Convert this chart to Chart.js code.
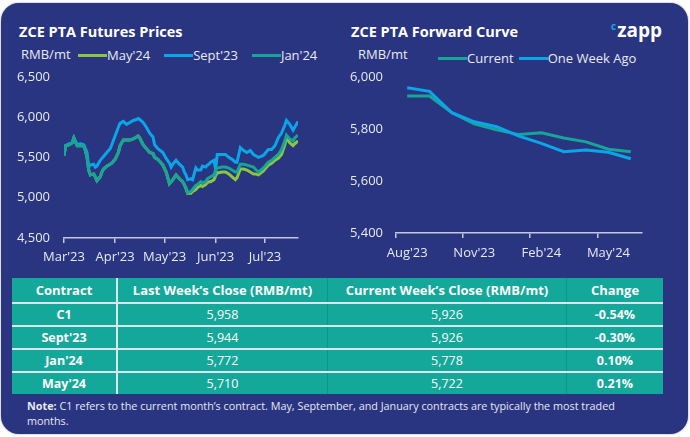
<!DOCTYPE html>
<html>
<head>
<meta charset="utf-8">
<script src="https://cdn.jsdelivr.net/npm/chart.js@4.4.0/dist/chart.umd.min.js"></script>
<style>
  html, body { margin: 0; padding: 0; background: #fff; }
  body { width: 690px; height: 437px; position: relative; overflow: hidden; font-family: "Open Sans", sans-serif; }
  .card { position: absolute; left: 1px; top: 3px; width: 687px; height: 431px; background: #2a3581; border-radius: 18px; box-shadow: 0 0 2px rgba(0,0,0,0.45); }
  .title { position: absolute; color: #fff; font-weight: 700; font-size: 14.5px; line-height: 20px; white-space: nowrap; }
  .unit { position: absolute; color: #e8eaf3; font-size: 13px; line-height: 16px; }
  .box { position: absolute; }
  .legend { position: absolute; display: flex; color: #e8eaf3; font-size: 13px; line-height: 16px; white-space: nowrap; }
  .legend .item { display: flex; align-items: center; }
  .legend .swatch { display: inline-block; width: 29px; height: 3px; }
  .logo { position: absolute; left: 611px; top: 14px; color: #fff; font-weight: 700; font-size: 19px; line-height: 24px; }
  .logo .c { color: #12a6e6; font-size: 10px; vertical-align: 7px; margin-right: 1px; }
  table { position: absolute; left: 12px; top: 278px; width: 651px; border-collapse: collapse; background: #14a89b; color: #fff; font-size: 12.5px; }
  th, td { text-align: center; padding: 0; border-left: 1px solid #0e9488; }
  th { height: 24px; font-weight: 700; font-size: 13px; }
  td { height: 21px; border-top: 2px solid #dbe5ec; }
  th:first-child, td:first-child { border-left: none; border-right: 2px solid #dbe5ec; font-weight: 700; }
  td.chg { font-weight: 700; }
  .note { position: absolute; left: 27px; top: 398px; width: 600px; color: #e6e8f2; font-size: 10.8px; line-height: 15px; }
</style>
</head>
<body>
<div class="card"></div>
<div class="title" style="left:19px; top:22px;">ZCE PTA Futures Prices</div>
<div class="title" style="left:351px; top:22px;">ZCE PTA Forward Curve</div>
<div class="logo"><span class="c">c</span>zapp</div>
<div class="unit" style="left:21px; top:46px;">RMB/mt</div>
<div class="unit" style="left:358px; top:46px;">RMB/mt</div>
<div class="legend" id="futuresLegend" style="left:78px; top:47px;"></div>
<div class="legend" id="curveLegend" style="left:438px; top:50px;"></div>
<div class="box" style="left:8px; top:55px; width:300px; height:213px;"><canvas id="futures"></canvas></div>
<div class="box" style="left:340px; top:56px; width:315px; height:207px;"><canvas id="curve"></canvas></div>
<table id="closeTable"></table>
<div class="note"><b>Note:</b> C1 refers to the current month’s contract. May, September, and January contracts are typically the most traded months.</div>

<script>
// futures prices, x = days since 1 Mar 2023
const futuresDays = [0,1,3,5,6,8,10,12,13,14,15,16,18,19,20,22,23,24,26,28,29,31,33,34,36,38,40,42,44,45,46,48,50,51,52,54,55,57,60,62,64,65,66,68,70,72,73,74,75,77,78,80,81,83,84,86,87,88,89,91,92,93,96,98,100,102,104,105,107,109,111,113,115,116,118,121,124,126,128,130,132,134,135,137,139,140,142];

const may24 = [5524,5645,5657,5681,5741,5645,5645,5645,5585,5500,
  5343,5283,5295,5259,5211,5259,5319,5356,5392,5416,
  5428,5476,5560,5645,5717,5717,5717,5729,5753,5765,
  5741,5657,5609,5585,5560,5548,5500,5476,5404,5319,
  5175,5199,5223,5283,5235,5199,5163,
  5115,5054,5054,5078,5102,5127,5151,5139,5163,5187,
  5199,5199,5223,5271,5307,5319,5319,5295,5259,5223,
  5247,5356,5356,5343,5319,5295,5295,5283,5331,5404,
  5428,5464,5488,5536,5657,5741,5681,5645,5669,5705];

const sept23 = [5536,5645,5669,5681,5741,5657,5669,5657,5609,5560,
  5380,5404,5416,5380,5392,5464,5488,5512,5560,5609,
  5657,5765,5874,5922,5946,5910,5934,5958,5970,5982,
  5970,5934,5874,5838,5801,5753,5657,5609,5560,5488,
  5428,5380,5416,5464,5416,5380,5319,5283,5223,5235,
  5223,5368,5343,5343,5392,5380,5404,5416,5440,5464,
  5356,5536,5536,5536,5500,5476,5440,5440,5621,5585,
  5560,5585,5536,5524,5500,5524,5597,5597,5645,5741,
  5801,5898,5958,5910,5838,5874,5946];

const jan24 = [5524,5645,5657,5681,5741,5645,5645,5645,5585,5500,
  5343,5283,5295,5259,5211,5259,5319,5356,5392,5416,
  5428,5476,5560,5645,5717,5717,5717,5729,5753,5765,
  5741,5657,5609,5585,5560,5548,5500,5476,5404,5319,
  5175,5199,5223,5283,5235,5199,5163,5127,5066,5078,
  5102,5151,5163,5199,5187,5199,5235,5247,5259,5283,
  5343,5368,5380,5380,5368,5343,5319,5319,5416,5416,
  5404,5392,5380,5356,5319,5368,5440,5464,5500,5536,
  5597,5705,5777,5729,5705,5741,5777];

const monthStarts = [0, 31, 61, 92, 122];
const monthLabels = ["Mar'23", "Apr'23", "May'23", "Jun'23", "Jul'23"];

// forward curve
const curveMonths = ["Aug'23","Sep'23","Oct'23","Nov'23","Dec'23","Jan'24","Feb'24","Mar'24","Apr'24","May'24","Jun'24"];
const curveCurrent = [5926,5926,5862,5819,5796,5778,5785,5765,5750,5722,5712];
const curveWeekAgo = [5958,5944,5862,5827,5808,5772,5744,5712,5719,5710,5685];

// table
const contracts = ["C1", "Sept'23", "Jan'24", "May'24"];
const lastClose = [5958, 5944, 5772, 5710];
const currentClose = [5926, 5926, 5778, 5722];
const changePct = ["-0.54%", "-0.30%", "0.10%", "0.21%"];

const GREEN = "#8cc63f";
const BLUE = "#0ba6e8";
const TEAL = "#16a596";
const AXIS = "#c4c8da";
const TEXT = "#e6e8f2";

Chart.defaults.font.family = "'Open Sans', sans-serif";
Chart.defaults.font.size = 13;
Chart.defaults.color = TEXT;
Chart.defaults.animation = false;

const fmt = v => Number(v).toLocaleString("en-US");

// html legend built from the chart's own legend items, kept in dataset order
function htmlLegend(containerId, gap) {
  return {
    id: "htmlLegend-" + containerId,
    afterUpdate(chart) {
      const box = document.getElementById(containerId);
      box.innerHTML = "";
      const items = chart.options.plugins.legend.labels.generateLabels(chart)
        .sort((a, b) => a.datasetIndex - b.datasetIndex);
      items.forEach((item, i) => {
        const el = document.createElement("div");
        el.className = "item";
        if (i < items.length - 1) el.style.marginRight = gap + "px";
        el.innerHTML = `<span class="swatch" style="background:${item.strokeStyle}"></span><span>${item.text}</span>`;
        box.appendChild(el);
      });
    }
  };
}

// order: lower numbers are drawn on top
function series(label, values, color, order) {
  return {
    label,
    data: futuresDays.map((d, i) => ({ x: d, y: values[i] })),
    borderColor: color,
    backgroundColor: color,
    borderWidth: 3,
    pointRadius: 0,
    tension: 0,
    order
  };
}

const yWidth = w => axis => { axis.width = w; };
const xHeight = h => axis => { axis.height = h; };

new Chart(document.getElementById("futures"), {
  type: "line",
  data: {
    datasets: [
      series("May'24", may24, GREEN, 2),
      series("Sept'23", sept23, BLUE, 1),
      series("Jan'24", jan24, TEAL, 0)
    ]
  },
  options: {
    responsive: true,
    maintainAspectRatio: false,
    layout: { padding: { left: 8, right: 10, top: 3, bottom: 0 } },
    plugins: { legend: { display: false }, tooltip: { enabled: false } },
    scales: {
      x: {
        type: "linear",
        min: 0,
        max: 142,
        afterFit: xHeight(30),
        afterBuildTicks: axis => { axis.ticks = monthStarts.map(v => ({ value: v })); },
        ticks: { callback: v => monthLabels[monthStarts.indexOf(v)], autoSkip: false, maxRotation: 0, padding: 6, color: TEXT },
        grid: { drawOnChartArea: false, drawTicks: true, tickLength: 5, color: AXIS, lineWidth: 1.5 },
        border: { display: true, color: AXIS, width: 1.5 }
      },
      y: {
        min: 4500,
        max: 6500,
        afterFit: yWidth(48),
        ticks: { stepSize: 500, callback: fmt, padding: 14, color: TEXT },
        grid: { display: false, drawTicks: false },
        border: { display: false }
      }
    }
  },
  plugins: [htmlLegend("futuresLegend", 14)]
});

new Chart(document.getElementById("curve"), {
  type: "line",
  data: {
    labels: curveMonths,
    datasets: [
      { label: "Current", data: curveCurrent, borderColor: TEAL, backgroundColor: TEAL, borderWidth: 3, pointRadius: 0, tension: 0, order: 1 },
      { label: "One Week Ago", data: curveWeekAgo, borderColor: BLUE, backgroundColor: BLUE, borderWidth: 3, pointRadius: 0, tension: 0, order: 0 }
    ]
  },
  options: {
    responsive: true,
    maintainAspectRatio: false,
    layout: { padding: { left: 8, right: 13, top: 3, bottom: 0 } },
    plugins: { legend: { display: false }, tooltip: { enabled: false } },
    scales: {
      x: {
        type: "category",
        offset: true,
        afterFit: xHeight(30),
        ticks: {
          callback: function (v, i) { return i % 3 === 0 ? this.getLabelForValue(v) : ""; },
          autoSkip: false, maxRotation: 0, padding: 7, color: TEXT
        },
        grid: {
          offset: true,
          drawOnChartArea: false,
          tickLength: 5,
          lineWidth: 1.5,
          color: ctx => (ctx.index % 3 === 0 ? AXIS : "rgba(0,0,0,0)"),
          tickColor: ctx => (ctx.index % 3 === 0 ? AXIS : "rgba(0,0,0,0)")
        },
        border: { display: true, color: AXIS, width: 1.5 }
      },
      y: {
        min: 5400,
        max: 6000,
        afterFit: yWidth(48),
        ticks: { stepSize: 200, callback: fmt, padding: 13, color: TEXT },
        grid: { display: false, drawTicks: false },
        border: { display: false }
      }
    }
  },
  plugins: [htmlLegend("curveLegend", 5)]
});

const table = document.getElementById("closeTable");
let html = "<tr><th style='width:104px'>Contract</th><th style='width:209px'>Last Week’s Close (RMB/mt)</th><th style='width:238px'>Current Week’s Close (RMB/mt)</th><th>Change</th></tr>";
contracts.forEach((c, i) => {
  html += `<tr><td>${c}</td><td>${fmt(lastClose[i])}</td><td>${fmt(currentClose[i])}</td><td class="chg">${changePct[i]}</td></tr>`;
});
table.innerHTML = html;
</script>
</body>
</html>
